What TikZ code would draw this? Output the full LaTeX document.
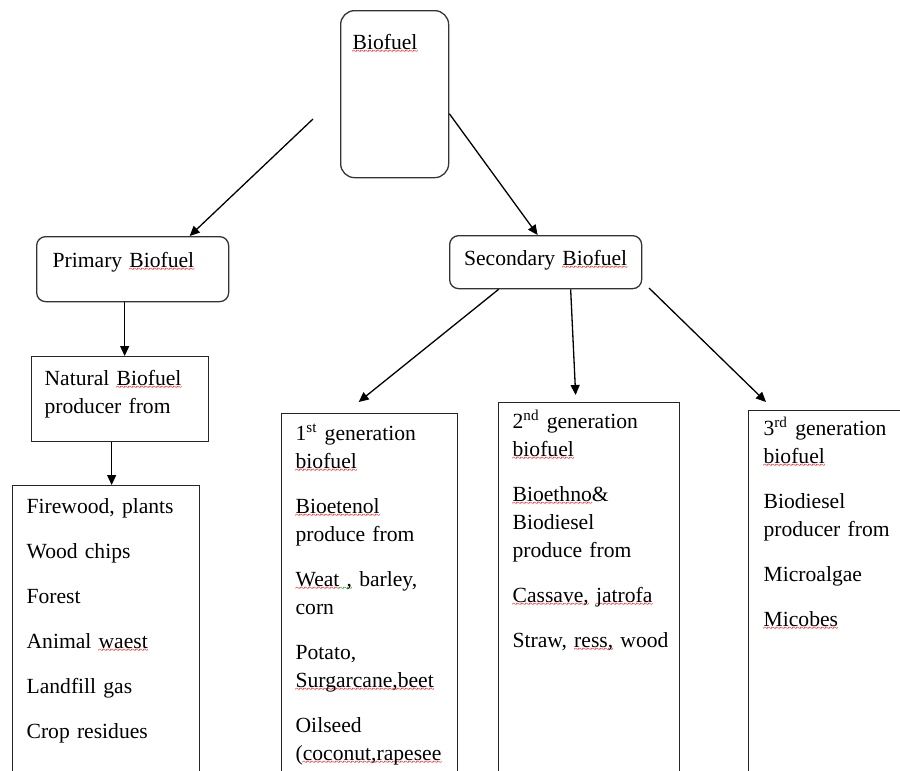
\documentclass[tikz,border=0pt]{standalone}
\usepackage{fontspec}
\setmainfont{Liberation Serif}
\usepackage{xcolor}
\usetikzlibrary{arrows.meta,positioning}

\hyphenpenalty=10000
\exhyphenpenalty=10000

% wavy marks under words
\newcommand{\wavyline}[2]{\leavevmode\setbox0\hbox{#2}\rlap{\raisebox{-2.6pt}[0pt][0pt]{\textcolor{#1}{\hbox to \wd0{\xleaders\hbox{\fontsize{5}{5}\selectfont\kern-0.35pt\char"7E\kern-0.35pt}\hfill}}}}\box0\relax}
\newcommand{\spell}[1]{\wavyline{red}{#1}}
\newcommand{\gram}[1]{\wavyline{green!50!black}{#1}}

\tikzset{
  roundbox/.style={draw=black!80, rounded corners=4.5pt, anchor=north west, inner ysep=0pt, align=left},
  listbox/.style={draw=black!85, anchor=north west, inner ysep=0pt, align=left},
}

\begin{document}
\begin{tikzpicture}[x=0.5pt, y=-0.5pt, line width=0.65pt, >={Triangle[length=5pt,width=4.5pt]}, font=\fontsize{10.8}{14}\selectfont]
        \useasboundingbox (0,0) rectangle (900,771);
        \clip (0,0) rectangle (900,771);

        % Top
        \node[roundbox, rounded corners=7pt, inner xsep=6pt, text width=42pt, text height=19.5pt, text depth=64pt] (biofuel) at (340,10) {\spell{Biofuel}};

        % Primary and secondary
        \node[roundbox, inner xsep=8pt, text width=80pt, text height=15.5pt, text depth=17pt] (primary) at (36,236) {Primary \spell{Biofuel}};
        \node[roundbox, align=center, inner xsep=3pt, text width=90pt, text height=15pt, text depth=11.5pt] (secondary) at (449,235) {Secondary \spell{Biofuel}};

        % Natural sources
        \node[listbox, inner xsep=6.5pt, text width=75.5pt, text height=14.5pt, text depth=28pt] (natural) at (31,356) {Natural \spell{Biofuel}\\producer from};
        \node[listbox, inner xsep=7pt, text width=79.5pt, text height=14pt, text depth=150pt] (sources) at (12,485) {Firewood, plants\\[8.5pt]Wood chips\\[8.5pt]Forest\\[8.5pt]Animal \spell{waest}\\[8.5pt]Landfill gas\\[8.5pt]Crop residues};

        % Generations
        \node[listbox, inner xsep=7pt, text width=74pt, text height=13.5pt, text depth=190pt] (gen1) at (281,413) {1\textsuperscript{st} generation\\\spell{biofuel}\\[8.5pt]\spell{Bioetenol}\\produce from\\[8.5pt]\spell{Weat}\gram{\ ,}~barley,\\corn\\[8.5pt]Potato,\\\spell{Surgarcane,beet}\\[8.5pt]Oilseed\\(\spell{coconut,rapesee}};
        \node[listbox, inner xsep=7pt, text width=76.5pt, text height=13pt, text depth=190pt] (gen2) at (498,402) {2\textsuperscript{nd} generation\\\spell{biofuel}\\[8.5pt]\spell{Bioethno}\&\\Biodiesel\\produce from\\[8.5pt]\spell{Cassave,}~\spell{jatrofa}\\[8.5pt]Straw,~\spell{ress,}~wood};
        \node[listbox, inner xsep=7.5pt, text width=100pt, text height=12.5pt, text depth=190pt] (gen3) at (748,410) {3\textsuperscript{rd} generation\\\spell{biofuel}\\[8.5pt]Biodiesel\\producer from\\[8.5pt]Microalgae\\[8.5pt]\spell{Micobes}};

        % Arrows
        \coordinate (lstart) at (313,119);
        \coordinate (rstart) at (649,288);
        \draw[->] (lstart) -- ([xshift=28.5pt]primary.north);
        \draw[->] ([yshift=-9.75pt]biofuel.east) -- ([xshift=-4pt]secondary.north);
        \draw[->] ([xshift=-4pt]primary.south) -- ([xshift=2.25pt]natural.north);
        \draw[->] ([xshift=-4.25pt]natural.south) -- ([xshift=2.75pt]sources.north);
        \draw[->] ([xshift=-23.5pt]secondary.south) -- ([xshift=-5.5pt,yshift=5.5pt]gen1.north);
        \draw[->] ([xshift=12.5pt]secondary.south) -- ([xshift=-6.75pt,yshift=3.5pt]gen2.north);
        \draw[->] (rstart) -- ([xshift=9pt,yshift=4pt]gen3.north west);
    \end{tikzpicture}
\end{document}
